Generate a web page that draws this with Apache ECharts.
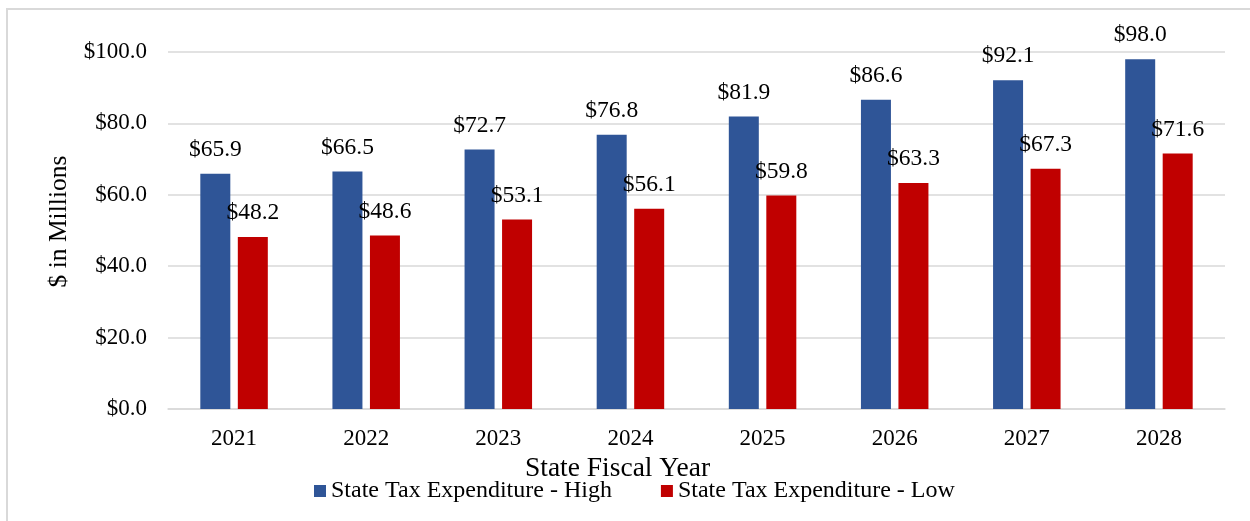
<!DOCTYPE html>
<html>
<head>
<meta charset="utf-8">
<script src="https://cdn.jsdelivr.net/npm/echarts@6/dist/echarts.min.js"></script>
<style>
html,body{margin:0;padding:0;background:#fff;}
#chart{width:1250px;height:521px;}
</style>
</head>
<body>
<div id="chart"></div>
<script>
var categories = ['2021','2022','2023','2024','2025','2026','2027','2028'];
var highValues = [65.9, 66.5, 72.7, 76.8, 81.9, 86.6, 92.1, 98.0];
var lowValues  = [48.2, 48.6, 53.1, 56.1, 59.8, 63.3, 67.3, 71.6];
var seriesNames = ['State Tax Expenditure - High', 'State Tax Expenditure - Low'];

var FONT = "'Liberation Serif', 'Times New Roman', serif";
var chart = echarts.init(document.getElementById('chart'), null, {renderer: 'canvas'});
function money(v){ return '$' + Number(v).toFixed(1); }

chart.setOption({
  animation: false,
  backgroundColor: '#ffffff',
  textStyle: { fontFamily: FONT, color: '#000' },
  graphic: [{
    type: 'rect',
    shape: { x: 7, y: 9, width: 1300, height: 600 },
    style: { fill: 'none', stroke: '#d9d9d9', lineWidth: 2 },
    silent: true
  }],
  grid: { left: 168, right: 25, top: 52, bottom: 112, containLabel: false },
  legend: {
    left: 309, top: 474,
    icon: 'rect', itemWidth: 12, itemHeight: 12, itemGap: 49,
    textStyle: { fontFamily: FONT, fontSize: 24, color: '#000' },
    data: seriesNames
  },
  xAxis: {
    type: 'category',
    data: categories,
    name: 'State Fiscal Year',
    nameLocation: 'middle',
    nameGap: 42,
    nameTextStyle: { fontFamily: FONT, fontSize: 27.5, color: '#000', padding: [0, 158, 0, 0] },
    axisLine: { show: true, lineStyle: { color: '#d9d9d9', width: 1.5 } },
    axisTick: { show: false },
    axisLabel: { fontFamily: FONT, fontSize: 23, color: '#000', margin: 18 }
  },
  yAxis: {
    type: 'value',
    min: 0, max: 100, interval: 20,
    name: '$ in Millions',
    nameLocation: 'middle',
    nameGap: 96,
    nameTextStyle: { fontFamily: FONT, fontSize: 25.5, color: '#000', padding: [0, 0, 0, 18] },
    axisLine: { show: false },
    axisTick: { show: false },
    splitLine: { lineStyle: { color: '#d9d9d9', width: 1.5 } },
    axisLabel: { fontFamily: FONT, fontSize: 23, color: '#000', margin: 21, formatter: money }
  },
  series: [{
    name: seriesNames[0],
    type: 'bar',
    data: highValues,
    barWidth: 30,
    barGap: '25%',
    itemStyle: { color: '#2F5597' },
    label: { show: true, position: 'top', distance: 12, fontFamily: FONT, fontSize: 23.5, color: '#000', formatter: function(p){ return money(p.value); } }
  }, {
    name: seriesNames[1],
    type: 'bar',
    data: lowValues,
    barWidth: 30,
    barGap: '25%',
    itemStyle: { color: '#C00000' },
    label: { show: true, position: 'top', distance: 12, fontFamily: FONT, fontSize: 23.5, color: '#000', formatter: function(p){ return money(p.value); } }
  }]
});
</script>
</body>
</html>
